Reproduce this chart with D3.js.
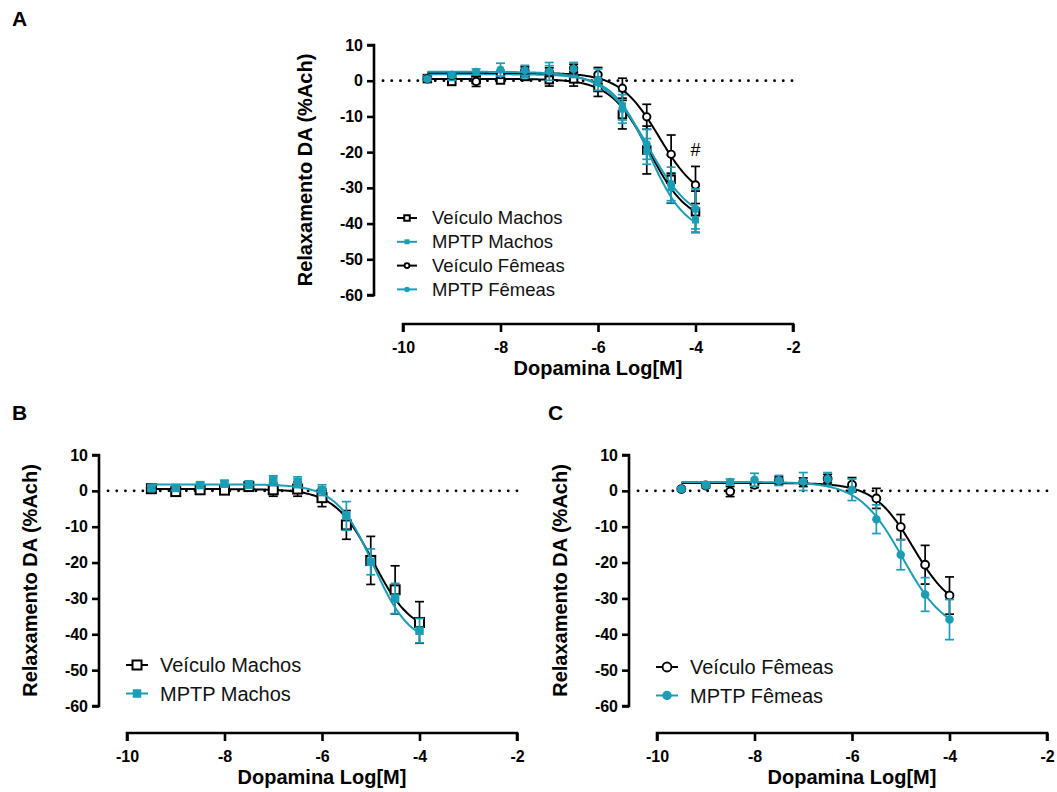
<!DOCTYPE html>
<html><head><meta charset="utf-8">
<script src="https://cdn.jsdelivr.net/npm/d3@7"></script>
<style>
body{margin:0;background:#fff;}
svg{display:block;font-family:"Liberation Sans",Arial,sans-serif;}
</style></head>
<body>
<svg id="chart" width="1057" height="792"></svg>
<script>
// ---------- data ----------
const doses = [-9.5,-9,-8.5,-8,-7.5,-7,-6.5,-6,-5.5,-5,-4.5,-4];
const yTicks = [10,0,-10,-20,-30,-40,-50,-60];
const xTicks = [-10,-8,-6,-4,-2];
const seriesNames = ["Veículo Machos","MPTP Machos","Veículo Fêmeas","MPTP Fêmeas"];

const vehMachos    = [0.6,-0.2,0.3,0.2,1.2,0.3,0.5,-1.9,-9.5,-19.4,-27.6,-36.7];
const vehMachosSem = [0.4,0.5,0.6,0.6,1.0,1.8,2.0,2.5,4.0,6.7,6.7,5.8];
const mptpMachos    = [0.8,0.8,1.6,2.0,1.8,2.9,2.4,0.2,-7.0,-19.8,-30.0,-39.0];
const mptpMachosSem = [0.5,0.6,0.8,0.9,1.0,1.3,1.5,1.5,4.0,3.6,4.2,3.4];
const vehFemeas    = [0.5,1.5,-0.2,1.7,2.9,2.4,3.4,1.7,-2.1,-10.1,-20.6,-29.2];
const vehFemeasSem = [0.4,0.6,1.4,0.8,1.0,1.2,1.2,2.0,2.8,3.5,5.4,5.2];
const mptpFemeas    = [0.5,1.5,2.5,3.1,2.9,2.6,3.3,0.3,-7.9,-17.8,-28.9,-35.9];
const mptpFemeasSem = [0.4,0.5,0.8,1.8,1.4,2.5,1.8,3.0,4.0,4.2,4.7,5.6];

// sigmoidal fit parameters (top, bottom, logEC50, Hill slope) per series
const fitTop     = [0.5, 1.8, 2.2, 2.5];
const fitBottom  = [-40, -43, -34, -40];
const fitLogEC50 = [-4.95, -4.95, -4.74, -4.96];
const fitHill    = [1.1, 1.15, 1.08, 0.98];

const annotationText = "#";   // significance mark over Veículo Fêmeas at -4

// ---------- styles ----------
const TEAL = "#1c9db6";
const means = [vehMachos, mptpMachos, vehFemeas, mptpFemeas];
const sems  = [vehMachosSem, mptpMachosSem, vehFemeasSem, mptpFemeasSem];
const styles = [
  {color:"#000", shape:"square", filled:false},
  {color:TEAL,   shape:"square", filled:true},
  {color:"#000", shape:"circle", filled:false},
  {color:TEAL,   shape:"circle", filled:true}
];

const svg = d3.select("#chart");
svg.append("rect").attr("width",1057).attr("height",792).attr("fill","#fff");

function drawMarker(g, shape, filled, color, cx, cy, size) {
  if (shape === "square") {
    const s = filled ? size - 0.5 : size;
    g.append("rect").attr("x", cx - s/2).attr("y", cy - s/2)
      .attr("width", s).attr("height", s)
      .attr("fill", filled ? color : "#fff")
      .attr("stroke", filled ? "none" : color)
      .attr("stroke-width", filled ? 0 : 2);
  } else {
    const r = filled ? size/2 : size/2 - 0.3;
    g.append("circle").attr("cx", cx).attr("cy", cy).attr("r", r)
      .attr("fill", filled ? color : "#fff")
      .attr("stroke", filled ? "none" : color)
      .attr("stroke-width", filled ? 0 : 1.9);
  }
}

const fmt = d => String(d);   // plain hyphen minus, as in the reference

function drawPanel(p) {
  const g = svg.append("g");
  const x = d3.scaleLinear().domain([-10,-2]).range([p.x0, p.x1]);
  const y = d3.scaleLinear().domain([-60,10]).range([p.yBot, p.yTop]);

  // axes
  const yAxis = g.append("g").attr("transform", `translate(${p.yAxisX},0)`)
    .call(d3.axisLeft(y).tickValues(yTicks).tickSize(7).tickSizeOuter(0).tickPadding(4).tickFormat(fmt));
  const xAxis = g.append("g").attr("transform", `translate(0,${p.xAxisY})`)
    .call(d3.axisBottom(x).tickValues(xTicks).tickSize(8).tickSizeOuter(0).tickPadding(10).tickFormat(fmt));
  [yAxis, xAxis].forEach(a => {
    a.select(".domain").attr("stroke","#000").attr("stroke-width",2.6);
    a.selectAll(".tick line").attr("stroke","#000").attr("stroke-width",2.6);
    a.selectAll("text").attr("font-size",16).attr("font-weight","bold").attr("fill","#000")
      .attr("font-family","'Liberation Sans',Arial,sans-serif");
  });
  xAxis.select(".domain").attr("d", `M${p.x0},8V0H${p.x1}V8`);
  yAxis.select(".domain").attr("d", `M-7,${p.yTop}H0V${p.yBot}H-7`);

  // axis titles
  g.append("text").attr("transform", `translate(${p.yAxisX - 69},${(p.yTop+p.yBot)/2}) rotate(-90)`)
    .attr("text-anchor","middle").attr("dy","0.35em")
    .attr("font-size",20).attr("font-weight","bold").text("Relaxamento DA (%Ach)");
  g.append("text").attr("x",(p.x0+p.x1)/2).attr("y",p.xAxisY+44).attr("dy","0.35em")
    .attr("text-anchor","middle").attr("font-size",20).attr("font-weight","bold").text("Dopamina Log[M]");

  // panel letter
  g.append("text").attr("x",p.letterX).attr("y",p.letterY).attr("font-size",21)
    .attr("font-weight","bold").text(p.letter);

  // dotted zero line
  g.append("line").attr("x1", p.yAxisX + 9).attr("x2", p.x1 + 2)
    .attr("y1", y(0)).attr("y2", y(0))
    .attr("stroke","#000").attr("stroke-width",2.8).attr("stroke-linecap","round")
    .attr("stroke-dasharray","0.1,8.6");

  // series
  const curveXs = d3.range(-9.5, -3.999, 0.02);
  p.series.forEach(si => {
    const st = styles[si];
    const sg = g.append("g");
    const fit = v => fitBottom[si] + (fitTop[si] - fitBottom[si]) / (1 + Math.pow(10, (v - fitLogEC50[si]) * fitHill[si]));
    sg.append("path").datum(curveXs)
      .attr("d", d3.line().x(d => x(d)).y(d => y(fit(d))))
      .attr("fill","none").attr("stroke", st.color).attr("stroke-width",2);
    doses.forEach((d,i) => {
      const m = means[si][i], e = sems[si][i];
      const cx = x(d);
      sg.append("line").attr("x1",cx).attr("x2",cx).attr("y1",y(m-e)).attr("y2",y(m+e))
        .attr("stroke",st.color).attr("stroke-width",1.7);
      [m-e, m+e].forEach(v => sg.append("line").attr("x1",cx-4.5).attr("x2",cx+4.5)
        .attr("y1",y(v)).attr("y2",y(v)).attr("stroke",st.color).attr("stroke-width",1.7));
    });
    doses.forEach((d,i) => {
      drawMarker(sg, st.shape, st.filled, st.color, x(d), y(means[si][i]),
        st.shape === "square" ? p.sqSize : p.cirSize);
    });
  });

  // annotation
  if (p.annotate) {
    const last = doses.length - 1;
    g.append("text").attr("x", x(doses[last])).attr("y", y(vehFemeas[last] + vehFemeasSem[last]) - 10)
      .attr("text-anchor","middle").attr("font-size",18).text(annotationText);
  }

  // legend
  p.series.forEach((si, k) => {
    const st = styles[si];
    const ly = p.legY + k * p.legStep;
    g.append("line").attr("x1",p.legX).attr("x2",p.legX + p.legLine).attr("y1",ly).attr("y2",ly)
      .attr("stroke",st.color).attr("stroke-width",2);
    drawMarker(g, st.shape, st.filled, st.color, p.legX + p.legLine/2, ly,
      st.shape === "square" ? p.legSq : p.legCir);
    g.append("text").attr("x",p.legTextX).attr("y",ly).attr("dy","0.35em")
      .attr("font-size",p.legFont).attr("fill","#111").text(seriesNames[si]);
  });
}

drawPanel({letter:"A", letterX:12, letterY:26,
  x0:403, x1:793, yTop:45, yBot:295, yAxisX:374, xAxisY:324,
  series:[0,1,2,3], sqSize:7.5, cirSize:8,
  annotate:true,
  legX:397, legLine:20, legTextX:432, legY:218, legStep:23.8, legFont:18.5, legSq:5.5, legCir:5.5});

drawPanel({letter:"B", letterX:12, letterY:420,
  x0:127, x1:517, yTop:455, yBot:706, yAxisX:99, xAxisY:733,
  series:[0,1], sqSize:9, cirSize:8.5,
  annotate:false,
  legX:126, legLine:22, legTextX:160, legY:665, legStep:28.5, legFont:20, legSq:9, legCir:9});

drawPanel({letter:"C", letterX:548, letterY:420,
  x0:657, x1:1047, yTop:455, yBot:706, yAxisX:629, xAxisY:733,
  series:[2,3], sqSize:9, cirSize:8.5,
  annotate:false,
  legX:656, legLine:22, legTextX:690, legY:667, legStep:28.5, legFont:20, legSq:9, legCir:9.5});
</script>
</body></html>
